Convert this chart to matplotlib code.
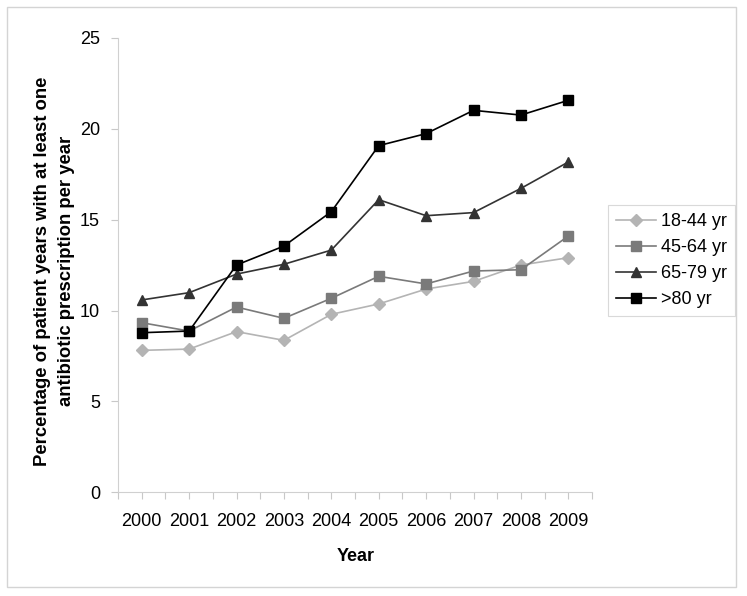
import matplotlib
matplotlib.use('Agg')
import matplotlib.pyplot as plt
from matplotlib.patches import Rectangle

plt.rcParams['font.family'] = ['Liberation Sans', 'DejaVu Sans']

years = [2000, 2001, 2002, 2003, 2004, 2005, 2006, 2007, 2008, 2009]
age_18_44 = [7.81, 7.88, 8.84, 8.36, 9.79, 10.36, 11.18, 11.60, 12.50, 12.90]
age_45_64 = [9.33, 8.87, 10.19, 9.57, 10.67, 11.88, 11.46, 12.17, 12.24, 14.09]
age_65_79 = [10.58, 10.98, 12.00, 12.54, 13.32, 16.09, 15.21, 15.38, 16.71, 18.16]
age_80 = [8.78, 8.87, 12.50, 13.54, 15.43, 19.06, 19.72, 21.00, 20.74, 21.55]

fig = plt.figure(figsize=(7.47, 5.96), dpi=100)
ax = fig.add_axes([0.158, 0.1737, 0.6345, 0.7633])

# outer frame round the whole chart
fig.patches.append(Rectangle((7/747, 9/596), 729/747, 580/596, transform=fig.transFigure,
                             fill=False, edgecolor='#d4d4d4', linewidth=1.0))

ax.plot(years, age_18_44, color='#b4b4b4', marker='D', markersize=6, lw=1.2, label='18-44 yr')
ax.plot(years, age_45_64, color='#7a7a7a', marker='s', markersize=6.5, lw=1.2, label='45-64 yr')
ax.plot(years, age_65_79, color='#333333', marker='^', markersize=7.5, lw=1.2, label='65-79 yr')
ax.plot(years, age_80, color='#000000', marker='s', markersize=6.5, lw=1.2, label='>80 yr')

ax.set_xlim(1999.5, 2009.5)
ax.set_ylim(0, 25)
ax.set_yticks([0, 5, 10, 15, 20, 25])
ax.set_xticks(years)
ax.set_xticks([y + 0.5 for y in [1999] + years], minor=True)

for s in ['top', 'right']:
    ax.spines[s].set_visible(False)
for s in ['left', 'bottom']:
    ax.spines[s].set_color('#d0d0d0')

ax.tick_params(axis='both', which='both', direction='out', length=5, color='#c8c8c8',
               labelsize=13, width=0.8)
ax.tick_params(axis='x', which='major', pad=10)
ax.tick_params(axis='y', pad=8)

fig.text(0.0735, 0.545, 'Percentage of patient years with at least one\nantibiotic prescription per year',
         rotation=90, ha='center', va='center', fontsize=13.3, fontweight='bold', linespacing=1.55)
fig.text(0.476, 0.067, 'Year', ha='center', va='center', fontsize=13, fontweight='bold')

leg = ax.legend(loc='upper left', bbox_to_anchor=(0.814, 0.656), bbox_transform=fig.transFigure,
                borderaxespad=0, fontsize=13, frameon=True, fancybox=False, edgecolor='#d0d0d0',
                handlelength=2.2, handletextpad=0.3, labelspacing=0.5, borderpad=0.45)
leg.get_frame().set_linewidth(0.8)

fig.savefig('out.png', dpi=100)
